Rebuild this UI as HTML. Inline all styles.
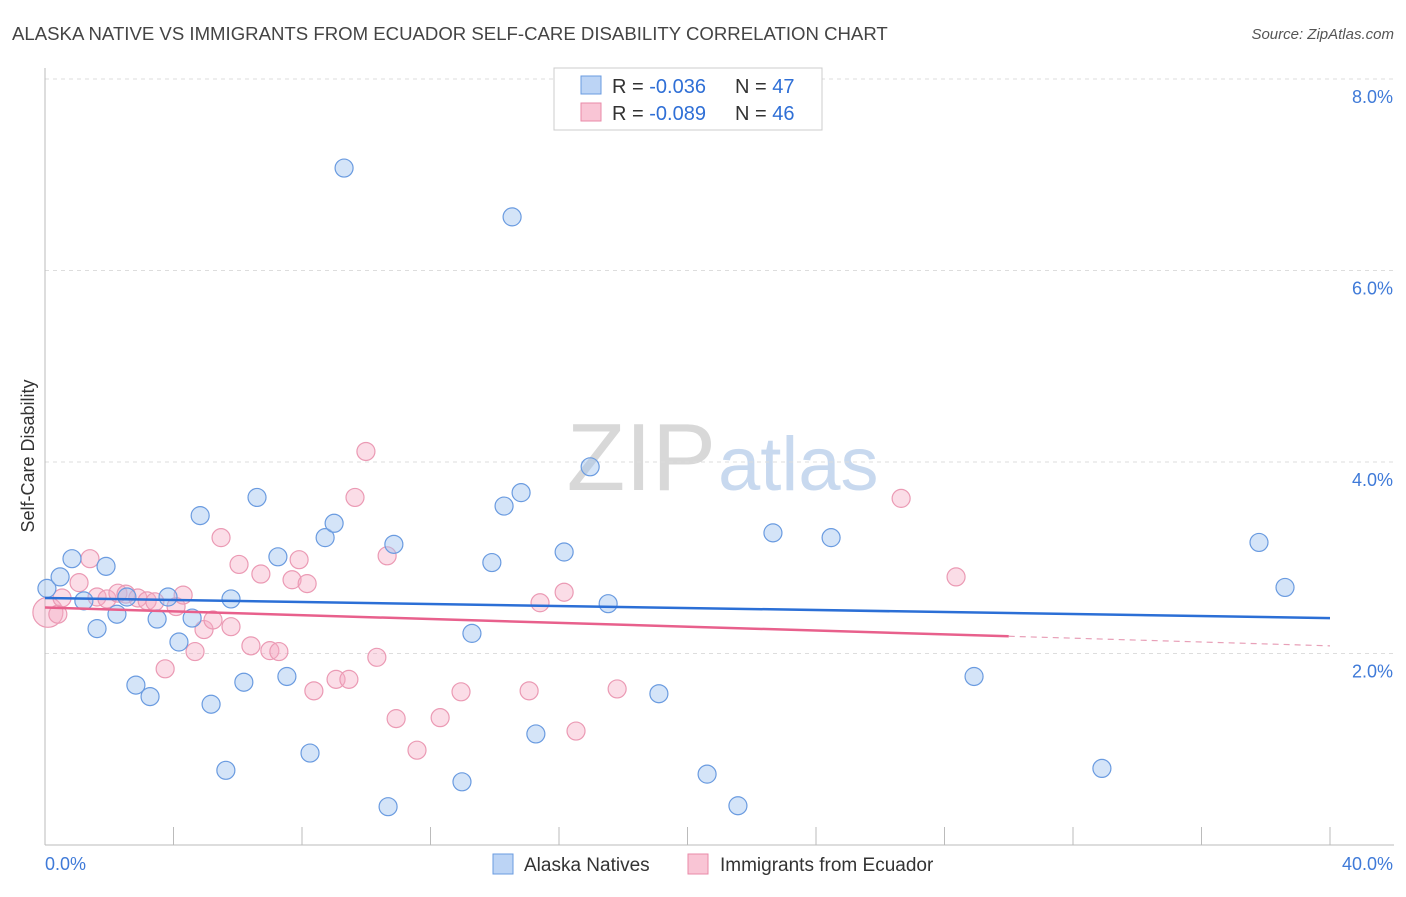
<!DOCTYPE html>
<html><head><meta charset="utf-8"><style>
body{margin:0;background:#fff;font-family:"Liberation Sans",sans-serif}
svg text{font-family:"Liberation Sans",sans-serif}
</style></head><body>
<svg id="c" width="1406" height="892" xmlns="http://www.w3.org/2000/svg">
<text x="12" y="40" font-size="18.6" fill="#444">ALASKA NATIVE VS IMMIGRANTS FROM ECUADOR SELF-CARE DISABILITY CORRELATION CHART</text>
<text x="1394" y="39" font-size="15" fill="#555" text-anchor="end" font-style="italic">Source: ZipAtlas.com</text>
<text x="716" y="490" font-size="96" fill="#d8d8d8" text-anchor="end" font-family="Liberation Serif">ZIP</text>
<text x="718" y="490" font-size="76" fill="#c8d9ef">atlas</text>
<text x="34" y="456" font-size="18" fill="#333" text-anchor="middle" transform="rotate(-90 34 456)">Self-Care Disability</text>
<g id="grid"></g><g id="pts"></g><g id="trend"></g>
<rect x="554" y="68" width="268" height="62" fill="#fff" stroke="#ccc"/>
<rect x="581" y="76" width="20" height="18" fill="#bcd4f5" stroke="#6a9be0"/>
<rect x="581" y="103" width="20" height="18" fill="#f9c5d5" stroke="#e98aa8"/>
<text x="612" y="93" font-size="20" fill="#333">R = <tspan fill="#2f6fd6">-0.036</tspan><tspan x="735">N = </tspan><tspan fill="#2f6fd6">47</tspan></text>
<text x="612" y="120" font-size="20" fill="#333">R = <tspan fill="#2f6fd6">-0.089</tspan><tspan x="735">N = </tspan><tspan fill="#2f6fd6">46</tspan></text>
<rect x="493" y="854" width="20" height="20" fill="#bcd4f5" stroke="#6a9be0"/>
<text x="524" y="871" font-size="19" fill="#333">Alaska Natives</text>
<rect x="688" y="854" width="20" height="20" fill="#f9c5d5" stroke="#e98aa8"/>
<text x="720" y="871" font-size="19" fill="#333">Immigrants from Ecuador</text>
</svg>
<script>
const blueX=[0.06,0.47,0.84,1.21,1.62,1.90,2.24,2.55,3.27,2.83,3.49,3.83,4.17,4.58,4.83,5.17,5.63,5.79,6.19,6.60,7.25,7.53,8.25,8.72,9.00,9.31,10.68,10.86,12.98,13.29,13.91,14.29,14.54,14.82,15.28,16.16,16.97,17.53,19.11,20.61,21.57,22.66,24.47,28.92,32.90,37.79,38.60];
const blueY=[2.68,2.80,2.99,2.55,2.26,2.91,2.41,2.59,1.55,1.67,2.36,2.59,2.12,2.37,3.44,1.47,0.78,2.57,1.70,3.63,3.01,1.76,0.96,3.21,3.36,7.07,0.40,3.14,0.66,2.21,2.95,3.54,6.56,3.68,1.16,3.06,3.95,2.52,1.58,0.74,0.41,3.26,3.21,1.76,0.80,3.16,2.69];
const pinkX=[0.09,0.40,0.53,1.06,1.40,1.62,1.93,2.27,2.52,2.89,3.18,3.42,3.74,4.08,4.30,4.67,4.95,5.23,5.48,5.79,6.04,6.41,6.72,7.00,7.28,7.69,7.91,8.16,8.37,9.06,9.46,9.65,9.99,10.33,10.65,10.93,11.58,12.30,12.95,15.07,15.41,16.16,16.53,17.81,26.65,28.36];
const pinkY=[2.43,2.41,2.58,2.74,2.99,2.59,2.57,2.63,2.62,2.58,2.55,2.54,1.84,2.49,2.61,2.02,2.25,2.35,3.21,2.28,2.93,2.08,2.83,2.03,2.02,2.77,2.98,2.73,1.61,1.73,1.73,3.63,4.11,1.96,3.02,1.32,0.99,1.33,1.60,1.61,2.53,2.64,1.19,1.63,3.62,2.80];
const yTicks=[2,4,6,8];
const xTicks=[0,4,8,12,16,20,24,28,32,36,40];
const blueTrend=[2.58,2.37];
const pinkTrend=[2.48,2.08];
const pinkSolidEnd=30;
const NS="http://www.w3.org/2000/svg";
const X=v=>45+v/40*1285, Y=v=>845-v*95.75;
function mk(tag,attrs,parent){const e=document.createElementNS(NS,tag);for(const k in attrs)e.setAttribute(k,attrs[k]);document.getElementById(parent).appendChild(e);return e;}
yTicks.forEach(t=>{
 const l=mk('line',{x1:45,x2:1394,y1:Y(t),y2:Y(t),stroke:'#ddd','stroke-dasharray':'4,4'},'grid');
 
 
 const tx=mk('text',{x:1393,y:Y(t)+24,'font-size':18,fill:'#3f7ad8','text-anchor':'end'},'grid');tx.textContent=t.toFixed(1)+'%';
 
 
});
const ax=mk('line',{x1:45,x2:45,y1:68,y2:845,stroke:'#bbb'},'grid');


const bx=mk('line',{x1:45,x2:1394,y1:845,y2:845,stroke:'#bbb'},'grid');


xTicks.forEach(t=>{
 const l=mk('line',{x1:X(t),x2:X(t),y1:827,y2:845,stroke:'#bbb'},'grid');
 
 
});
[[0,'start',45],[40,'end',1393]].forEach(([v,a,x])=>{
 const tx=mk('text',{x:x,y:870,'font-size':18,fill:'#3f7ad8','text-anchor':a},'grid');tx.textContent=v.toFixed(1)+'%';
 
 
});
pinkX.forEach((v,i)=>{
 const c=mk('circle',{cx:X(v),cy:Y(pinkY[i]),r:i==0?15:9,fill:'rgba(246,170,195,0.4)',stroke:'#eb9ab4','stroke-width':1.2},'pts');
 
 
});
blueX.forEach((v,i)=>{
 const c=mk('circle',{cx:X(v),cy:Y(blueY[i]),r:9,fill:'rgba(160,195,240,0.45)',stroke:'#6a9be0','stroke-width':1.2},'pts');
 
 
});
const bl=mk('line',{x1:X(0),y1:Y(blueTrend[0]),x2:X(40),y2:Y(blueTrend[1]),stroke:'#2b6fd6','stroke-width':2.5},'trend');


const pm=pinkTrend[0]+(pinkTrend[1]-pinkTrend[0])*pinkSolidEnd/40;
const pl=mk('line',{x1:X(0),y1:Y(pinkTrend[0]),x2:X(pinkSolidEnd),y2:Y(pm),stroke:'#e8608c','stroke-width':2.5},'trend');


const pd=mk('line',{x1:X(pinkSolidEnd),y1:Y(pm),x2:X(40),y2:Y(pinkTrend[1]),stroke:'#e8a0b8','stroke-width':1.2,'stroke-dasharray':'6,5'},'trend');


</script>
</body></html>
